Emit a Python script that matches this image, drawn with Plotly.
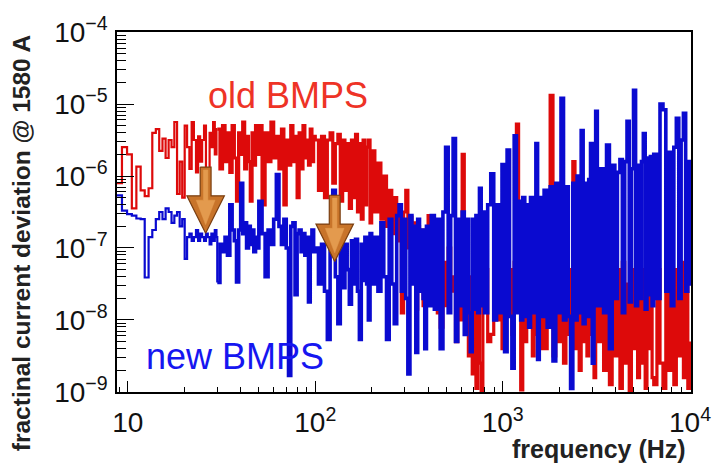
import plotly.graph_objects as go

# ---------------- data ----------------
# frequency bins (Hz)
freq_hz = [
    8.75, 9.3, 9.9, 10.5, 11.1, 11.7, 12.3, 12.9, 13.5, 14.1, 14.7, 15.3, 15.9, 16.5, 17.1, 17.7, 18.3, 18.9,
    19.5, 20.1, 20.7, 21.3, 21.9, 22.5, 23.1, 23.7, 24.3, 24.9, 25.5, 26.1, 26.7, 27.3, 27.9, 28.5, 29.1, 29.7,
    30, 31, 32, 33, 34, 35, 36, 37, 38, 39, 40, 41, 42, 43, 44, 45, 46, 47, 48, 49,
    50, 52, 54, 56, 58, 60, 62, 64, 66, 68, 70, 72, 74, 76, 78, 80, 82, 84, 86, 88, 90, 92, 94, 96, 98,
    100, 104, 108, 112, 116, 120, 124, 128, 132, 136, 140, 144, 148, 152, 156, 160, 164, 168, 172, 176, 180, 184, 188, 192, 196,
    200, 208, 216, 224, 232, 240, 248, 256, 264, 272, 280, 288, 296, 304, 312, 320, 328, 336, 344, 352, 360, 368, 376, 384, 392,
    400, 416, 432, 448, 464, 480, 496, 512, 528, 544, 560, 576, 592, 608, 624, 640, 656, 672, 688, 704, 720, 736, 752, 768, 784,
    800, 832, 864, 896, 928, 960, 992, 1024, 1056, 1088, 1120, 1152, 1184, 1216, 1248, 1280, 1312, 1344, 1376, 1408, 1440, 1472, 1504, 1536, 1568,
    1600, 1664, 1728, 1792, 1856, 1920, 1984, 2048, 2112, 2176, 2240, 2304, 2368, 2432, 2496, 2560, 2624, 2688, 2752, 2816, 2880, 2944, 3008, 3072, 3136,
    3200, 3328, 3456, 3584, 3712, 3840, 3968, 4096, 4224, 4352, 4480, 4608, 4736, 4864, 4992, 5120, 5248, 5376, 5504, 5632, 5760, 5888, 6016, 6144, 6272,
    6400, 6656, 6912, 7168, 7424, 7680, 7936, 8192, 8448, 8704, 8960, 9216, 9472, 9728, 9984, 10000,
]

# log10 of fractional current deviation, old BMPS (red)
old_bmps_log10 = [
    -6.1, -5.6, -5.7, -6.45, -5.87, -6.2, -6.28, -6.17, -5.4, -5.35, -5.65, -5.48, -5.75, -5.5, -5.6, -5.25, -6.25, -5.8,
    -6.3, -5.3, -5.6, -5.9, -5.25, -5.5, -5.95, -5.45, -5.8, -5.5, -5.3, -5.9, -6.3, -5.4, -5.6, -5.25, -5.7, -5.35,
    -5.35, -5.9, -5.3, -5.8, -5.4, -5.95, -5.3, -5.75, -6.35, -5.4, -5.7, -5.25, -5.9, -5.45, -5.8, -6.35, -5.4, -5.85, -5.3, -5.7,
    -5.3, -6.4, -5.4, -5.8, -5.25, -5.75, -5.45, -5.9, -5.35, -6.4, -5.5, -5.85, -5.3, -5.8, -5.45, -6.3, -5.4, -5.9, -5.3, -5.75, -5.5, -5.85, -5.35, -5.8, -5.45,
    -5.5, -6.2, -5.45, -6.3, -5.5, -5.4, -6.1, -5.55, -5.42, -6.35, -5.5, -6.2, -5.55, -6.45, -5.5, -6.3, -5.42, -6.5, -5.55, -6.6, -5.5, -6.4, -5.6, -5.5, -6.65,
    -5.65, -6.5, -5.82, -6.6, -6.0, -6.7, -6.2, -6.8, -6.3, -6.9, -6.4, -7.9, -6.5, -6.2, -7.0, -6.57, -7.1, -6.65, -7.85, -6.7, -7.2, -6.75, -7.8, -6.8, -7.3,
    -6.55, -7.6, -6.9, -7.9, -8.1, -7.2, -7.8, -7.0, -7.6, -7.4, -8.3, -7.2, -8.0, -5.7, -7.5, -7.2, -8.5, -7.4, -8.75, -7.3, -8.95, -7.5, -8.6, -8.98, -7.6,
    -7.3, -8.3, -8.2, -7.2, -8.0, -7.4, -8.4, -7.1, -7.9, -7.3, -8.2, -7.2, -5.28, -7.4, -8.97, -7.3, -8.3, -7.1, -8.1, -7.4, -8.5, -7.2, -8.2, -7.3, -8.4,
    -7.3, -8.4, -7.2, -4.88, -8.5, -7.4, -8.3, -7.2, -8.6, -7.5, -8.2, -7.3, -5.8, -8.4, -7.2, -8.7, -7.4, -8.3, -7.2, -8.5, -7.6, -8.2, -7.3, -8.8, -7.4,
    -8.3, -7.2, -8.7, -7.4, -8.9, -7.1, -8.5, -7.3, -8.95, -7.2, -8.6, -7.5, -9.0, -7.3, -8.4, -7.2, -8.8, -7.4, -8.6, -7.3, -8.95, -7.5, -8.4, -7.2, -8.8,
    -8.9, -7.3, -8.6, -8.95, -7.2, -8.7, -7.4, -8.9, -7.3, -8.5, -7.2, -8.8, -7.4, -8.95, -8.6, -8.3,
]

# log10 of fractional current deviation, new BMPS (blue)
new_bmps_log10 = [
    -6.27, -6.48, -6.53, -6.55, -6.59, -6.6, -7.41, -6.85, -6.75, -6.6, -6.5, -6.6, -6.45, -6.5, -6.65, -6.55, -6.5, -6.7,
    -6.6, -7.15, -6.85, -6.8, -6.9, -6.85, -6.75, -6.9, -6.8, -6.85, -6.9, -6.8, -6.85, -6.95, -6.8, -6.9, -6.75, -6.85,
    -7.48, -6.95, -7.05, -6.85, -7.1, -6.4, -6.75, -6.9, -7.47, -6.75, -6.1, -6.8, -6.65, -7.0, -6.7, -6.95, -6.75, -7.05, -6.85, -7.0,
    -6.35, -6.8, -7.4, -6.75, -6.95, -6.6, -5.98, -6.7, -6.95, -6.6, -7.0, -8.77, -6.7, -6.65, -7.65, -6.8, -6.75, -7.05, -6.8, -7.1, -6.85, -7.75, -6.9, -6.75, -7.05,
    -7.0, -7.5, -6.95, -7.6, -8.27, -7.0, -6.2, -7.4, -8.05, -6.9, -7.55, -6.95, -7.3, -7.78, -6.9, -7.5, -6.88, -7.6, -8.27, -6.95, -7.45, -6.85, -7.5, -8.0, -6.8,
    -7.5, -6.85, -7.6, -6.65, -7.4, -8.27, -6.6, -7.5, -8.05, -6.55, -6.4, -7.6, -6.6, -7.7, -8.75, -6.55, -7.5, -6.7, -8.45, -6.6, -7.6, -6.75, -7.7, -8.4, -6.7,
    -7.8, -6.55, -7.85, -6.6, -8.4, -6.5, -5.6, -7.9, -6.55, -5.48, -8.3, -6.6, -7.8, -6.5, -8.2, -6.6, -7.9, -8.44, -6.6, -7.85, -6.55, -7.9, -6.17, -7.8, -6.5,
    -7.9, -6.4, -5.97, -8.0, -6.4, -7.9, -5.84, -8.44, -5.64, -7.95, -8.67, -5.44, -7.9, -6.35, -8.0, -6.3, -7.95, -6.4, -8.1, -6.3, -7.9, -6.35, -5.55, -8.55, -6.3,
    -7.95, -6.2, -8.1, -6.15, -8.57, -6.1, -7.9, -4.92, -8.0, -6.15, -7.95, -8.95, -6.1, -8.0, -6.0, -7.9, -5.37, -8.05, -6.1, -7.95, -6.05, -5.55, -8.6, -6.1, -5.1,
    -7.8, -5.9, -7.9, -5.57, -8.4, -5.85, -7.7, -5.95, -5.77, -7.9, -5.8, -5.24, -7.75, -5.9, -4.81, -7.8, -5.85, -7.7, -5.8, -5.41, -7.85, -5.75, -7.65, -5.73, -7.8,
    -5.7, -7.7, -5.0, -5.08, -7.6, -5.67, -7.8, -5.6, -5.2, -7.7, -5.5, -5.13, -7.6, -5.8, -7.5, -5.9,
]

# arrow markers: frequency (Hz) and level of the tip
arrow_freq_hz = [26.0, 127.0]
arrow_tip_level = [1.6e-7, 6.5e-8]

x_tick_vals = [10, 100, 1000, 10000]
x_tick_text = ["10", "10<sup>2</sup>", "10<sup>3</sup>", "10<sup>4</sup>"]
y_tick_vals = [1e-9, 1e-8, 1e-7, 1e-6, 1e-5, 1e-4]
y_tick_text = ["10<sup>\u22129</sup>", "10<sup>\u22128</sup>", "10<sup>\u22127</sup>",
               "10<sup>\u22126</sup>", "10<sup>\u22125</sup>", "10<sup>\u22124</sup>"]

# ---------------- figure ----------------
old_vals = [10 ** v for v in old_bmps_log10]
new_vals = [10 ** v for v in new_bmps_log10]

# the coarse low-frequency bins are drawn thinner than the dense spectrum above 30 Hz
split = freq_hz.index(30)

fig = go.Figure()
for vals, color, dense_w in ((old_vals, "#dd0a0a", 3.2), (new_vals, "#0a0ad0", 3.6)):
    fig.add_trace(go.Scatter(x=freq_hz[:split + 1], y=vals[:split + 1], mode="lines",
                             line=dict(color=color, width=2.2, shape="hv", simplify=False),
                             hoverinfo="skip"))
    fig.add_trace(go.Scatter(x=freq_hz[split:], y=vals[split:], mode="lines",
                             line=dict(color=color, width=dense_w, shape="hv", simplify=False),
                             hoverinfo="skip"))

# block arrows (polygon in log offsets) with a lighter inner bevel
shape_dx = [-0.029, 0.029, 0.029, 0.10, 0.0, -0.10, -0.029, -0.029]
shape_dy = [0.92, 0.92, 0.52, 0.52, 0.0, 0.52, 0.52, 0.92]
inner_dx = [-0.012, 0.012, 0.012, 0.05, 0.0, -0.05, -0.012, -0.012]
inner_dy = [0.88, 0.88, 0.46, 0.46, 0.12, 0.46, 0.46, 0.88]
for f0, tip in zip(arrow_freq_hz, arrow_tip_level):
    fig.add_trace(go.Scatter(x=[f0 * 10 ** d for d in shape_dx], y=[tip * 10 ** d for d in shape_dy],
                             mode="lines", fill="toself", fillcolor="#c8742a",
                             line=dict(color="#7a3e10", width=1.2), hoverinfo="skip"))
    fig.add_trace(go.Scatter(x=[f0 * 10 ** d for d in inner_dx], y=[tip * 10 ** d for d in inner_dy],
                             mode="lines", fill="toself", fillcolor="#e39a4e",
                             line=dict(color="#e39a4e", width=0.5), hoverinfo="skip"))

x_minor = [k * 10 ** e for e in range(0, 4) for k in range(2, 10) if 8.75 <= k * 10 ** e <= 10000]
y_minor = [k * 10 ** e for e in range(-9, -4) for k in range(2, 10)]

font_main = "Liberation Sans, Arial, Helvetica, sans-serif"

fig.update_xaxes(type="log", range=[0.942, 4.005], showgrid=False, zeroline=False,
                 showline=True, linecolor="black", linewidth=1.5, mirror=True,
                 tickmode="array", tickvals=x_tick_vals, ticktext=x_tick_text,
                 ticks="inside", ticklen=11, tickwidth=1.2, tickcolor="black",
                 tickfont=dict(family=font_main, size=28, color="#111"), ticklabelstandoff=5,
                 ticklabeloverflow="allow",
                 minor=dict(tickmode="array", tickvals=x_minor, ticks="inside", ticklen=5,
                            tickwidth=1.1, tickcolor="black", showgrid=False))
fig.update_yaxes(type="log", range=[-9.0005, -3.9995], showgrid=False, zeroline=False,
                 showline=True, linecolor="black", linewidth=1.5, mirror=True,
                 tickmode="array", tickvals=y_tick_vals, ticktext=y_tick_text,
                 ticks="inside", ticklen=17, tickwidth=1.2, tickcolor="black",
                 tickfont=dict(family=font_main, size=28, color="#111"), ticklabelstandoff=2,
                 ticklabeloverflow="allow",
                 minor=dict(tickmode="array", tickvals=y_minor, ticks="inside", ticklen=9,
                            tickwidth=1.1, tickcolor="black", showgrid=False))

fig.add_annotation(text="<b>fractinal current deviation @ 1580 A</b>", xref="paper", yref="paper",
                   x=-0.166, y=1.0, xanchor="center", yanchor="top", textangle=-90, showarrow=False,
                   font=dict(family=font_main, size=24.5, color="#222"))
fig.add_annotation(text="<b>frequency (Hz)</b>", xref="paper", yref="paper",
                   x=0.995, y=-0.158, xanchor="right", yanchor="middle", showarrow=False,
                   font=dict(family=font_main, size=25, color="#222"))
fig.add_annotation(text="old BMPS", xref="paper", yref="paper", x=0.298, y=0.824,
                   xanchor="center", yanchor="middle", showarrow=False,
                   font=dict(family=font_main, size=36, color="#ee3326"))
fig.add_annotation(text="new BMPS", xref="paper", yref="paper", x=0.206, y=0.099,
                   xanchor="center", yanchor="middle", showarrow=False,
                   font=dict(family=font_main, size=36, color="#1616f0"))

fig.update_layout(width=723, height=466, margin=dict(l=117, r=23, t=17, b=74),
                  paper_bgcolor="white", plot_bgcolor="white", showlegend=False,
                  hovermode=False)

fig.write_html("out.html", config={"displayModeBar": False},
               post_script="document.body.style.margin='0px';")
